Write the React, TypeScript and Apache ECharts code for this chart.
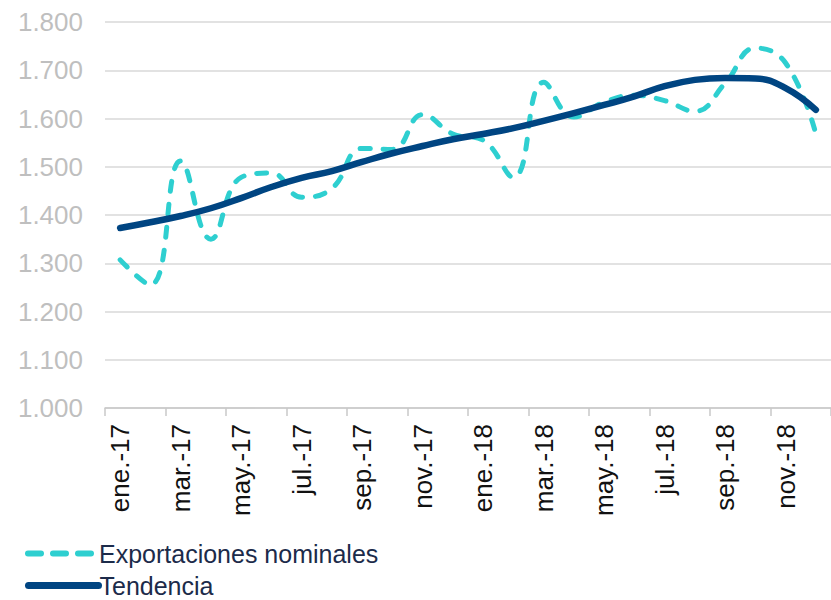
import React, { useEffect, useRef } from "react";
import * as echarts from "echarts";

const months = [
  "ene.-17", "feb.-17", "mar.-17", "abr.-17", "may.-17", "jun.-17",
  "jul.-17", "ago.-17", "sep.-17", "oct.-17", "nov.-17", "dic.-17",
  "ene.-18", "feb.-18", "mar.-18", "abr.-18", "may.-18", "jun.-18",
  "jul.-18", "ago.-18", "sep.-18", "oct.-18", "nov.-18", "dic.-18",
];

const exportaciones = [
  1307, 1255, 1512, 1350, 1478, 1487, 1437, 1455, 1538, 1536, 1608, 1568,
  1555, 1478, 1675, 1603, 1634, 1648, 1637, 1615, 1673, 1746, 1715, 1568,
];

const tendencia = [
  1373, 1385, 1398, 1414, 1435, 1458, 1477, 1491, 1510, 1528, 1543, 1557,
  1568, 1580, 1595, 1611, 1628, 1646, 1667, 1680, 1684, 1683, 1663, 1618,
];

const yMin = 1000;
const yMax = 1800;
const yStep = 100;

const FONT = "Liberation Sans, Arial, sans-serif";
const CYAN = "#2ecfd0";
const NAVY = "#004582";

export default function App() {
  const ref = useRef<HTMLDivElement>(null);

  useEffect(() => {
    document.body.style.margin = "0";
    if (!ref.current) return;
    const chart = echarts.init(ref.current, undefined, { renderer: "svg" });
    const legendBase = {
      orient: "vertical",
      left: 25,
      padding: 0,
      itemWidth: 70,
      itemHeight: 24,
      itemStyle: { opacity: 0 },
      textStyle: {
        fontFamily: FONT,
        fontSize: 25,
        lineHeight: 24,
        color: "#1c2b4a",
        padding: [0, 0, 0, -4],
      },
    };
    chart.setOption({
      animation: false,
      backgroundColor: "#ffffff",
      grid: { left: 105, top: 22, bottom: 192, width: 731 },
      legend: [
        {
          ...legendBase,
          top: 541,
          data: [
            {
              name: "Exportaciones nominales",
              lineStyle: { color: CYAN, width: 6, type: [13, 12], cap: "round" },
            },
          ],
        },
        {
          ...legendBase,
          top: 573,
          data: [
            {
              name: "Tendencia",
              lineStyle: { color: NAVY, width: 7, type: "solid", cap: "round" },
            },
          ],
        },
      ],
      xAxis: {
        type: "category",
        data: months,
        boundaryGap: true,
        axisLine: { show: true, lineStyle: { color: "#c8c8c8", width: 1.5 } },
        axisTick: { show: true, interval: 1, length: 8, lineStyle: { color: "#c8c8c8", width: 1.5 } },
        axisLabel: {
          interval: 1,
          rotate: 90,
          margin: 16,
          fontFamily: FONT,
          fontSize: 26,
          color: "#111111",
        },
        splitLine: { show: false },
      },
      yAxis: {
        type: "value",
        min: yMin,
        max: yMax,
        interval: yStep,
        axisLine: { show: false },
        axisTick: { show: false },
        axisLabel: {
          margin: 22,
          fontFamily: FONT,
          fontSize: 26,
          color: "#bfbfbf",
          formatter: (v: number) => (v / 1000).toFixed(3),
        },
        splitLine: { lineStyle: { color: "#d9d9d9", width: 1.5 } },
      },
      series: [
        {
          name: "Exportaciones nominales",
          type: "line",
          data: exportaciones,
          smooth: 0.45,
          symbol: "none",
          z: 2,
          lineStyle: { color: CYAN, width: 5, type: [10, 13], cap: "round" },
          itemStyle: { color: CYAN },
        },
        {
          name: "Tendencia",
          type: "line",
          data: tendencia,
          smooth: 0.45,
          symbol: "none",
          z: 3,
          lineStyle: { color: NAVY, width: 6.5, cap: "round" },
          itemStyle: { color: NAVY },
        },
      ],
    });
    return () => chart.dispose();
  }, []);

  return <div ref={ref} style={{ width: 831, height: 600 }} />;
}
